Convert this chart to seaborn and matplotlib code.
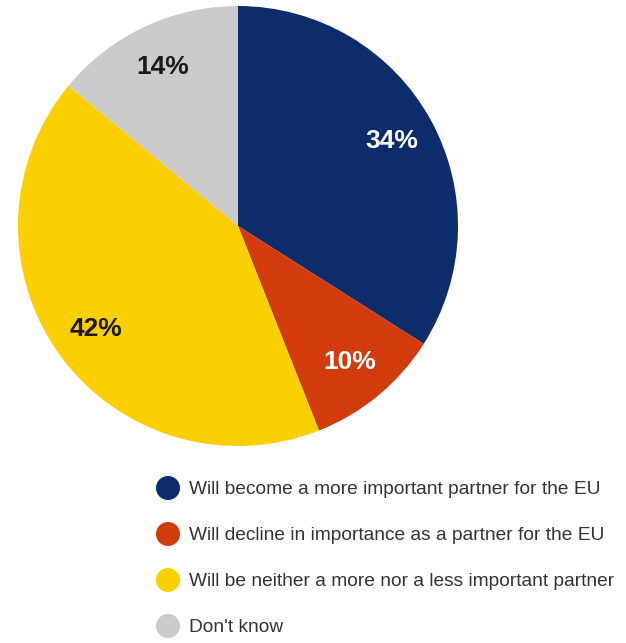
import matplotlib
matplotlib.use("Agg")
import matplotlib.pyplot as plt
import seaborn as sns
import pandas as pd

categories = [
    "Will become a more important partner for the EU",
    "Will decline in importance as a partner for the EU",
    "Will be neither a more nor a less important partner",
    "Don't know",
]
shares = [34, 10, 42, 14]
palette = ["#0c2c6c", "#d23c0c", "#fccf00", "#cbcbcb"]
label_colors = ["white", "white", "#1a1a1a", "#1a1a1a"]

sns.set_theme(style="white")
plt.rcParams["font.family"] = ["Liberation Sans", "DejaVu Sans"]

W, H = 626, 643
fig = plt.figure(figsize=(W / 100, H / 100), dpi=100)
fig.patch.set_facecolor("white")

# pie area, in pixel terms converted to figure fractions
cx, cy, r = 238, 226, 220
ax = fig.add_axes([(cx - r) / W, (H - cy - r) / H, 2 * r / W, 2 * r / H])
wedges, texts, autotexts = ax.pie(
    shares,
    colors=sns.color_palette(palette),
    startangle=90,
    counterclock=False,
    autopct="%d%%",
    pctdistance=0.80,
    wedgeprops=dict(linewidth=0),
    textprops=dict(fontsize=19, fontweight="bold"),
)
for t, c in zip(autotexts, label_colors):
    t.set_color(c)
ax.set_aspect("equal")
ax.set_xlim(-1, 1)
ax.set_ylim(-1, 1)
ax.axis("off")

# legend: an overlay axes whose data units are figure pixels
lax = fig.add_axes([0, 0, 1, 1])
lax.set_xlim(0, W)
lax.set_ylim(H, 0)
lax.axis("off")
row_y = [488, 534, 580, 626]
legend_df = pd.DataFrame({"x": [168] * 4, "y": row_y, "cat": categories})
sns.scatterplot(data=legend_df, x="x", y="y", hue="cat", palette=palette,
                s=300, linewidth=0, legend=False, ax=lax)
for y, cat in zip(row_y, categories):
    lax.text(189, y + 2, cat, fontsize=13.8, color="#333333",
             va="center", ha="left")
lax.set_xlim(0, W)
lax.set_ylim(H, 0)
lax.axis("off")

fig.savefig("out.png", dpi=100, facecolor="white")
